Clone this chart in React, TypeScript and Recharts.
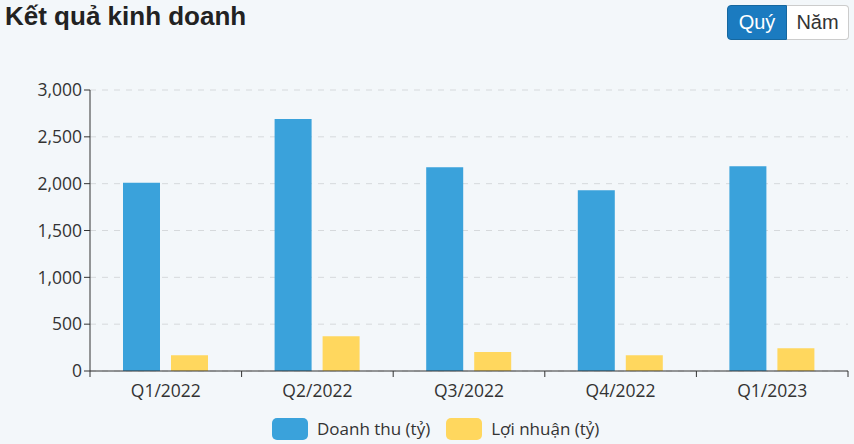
import { BarChart, Bar, XAxis, YAxis, CartesianGrid } from "recharts";

const quarters = ["Q1/2022", "Q2/2022", "Q3/2022", "Q4/2022", "Q1/2023"];
const revenue = [2010, 2690, 2175, 1930, 2185];
const profit = [168, 372, 203, 168, 243];
const yTicks = [0, 500, 1000, 1500, 2000, 2500, 3000];

const seriesNames = ["Doanh thu (tỷ)", "Lợi nhuận (tỷ)"];
const colors = ["#3aa2db", "#ffd75e"];

const data = quarters.map((q, i) => ({
  quarter: q,
  revenue: revenue[i],
  profit: profit[i],
}));

const font = "'Open Sans', 'Noto Sans', sans-serif";
const bandHalf = (848 - 90) / quarters.length / 2;

function QuarterTick(props: any) {
  const { x, y, payload, index } = props;
  const isLast = index === quarters.length - 1;
  return (
    <g>
      <line x1={x - bandHalf} y1={y - 8} x2={x - bandHalf} y2={y - 2} stroke="#333" />
      {isLast ? (
        <line x1={x + bandHalf} y1={y - 8} x2={x + bandHalf} y2={y - 2} stroke="#333" />
      ) : null}
      <text x={x} y={y + 18} textAnchor="middle" fill="#333" fontSize={17.5} fontFamily={font}>
        {payload.value}
      </text>
    </g>
  );
}

export default function App() {
  return (
    <div
      style={{
        position: "absolute",
        left: 0,
        top: 0,
        width: 854,
        height: 444,
        background: "#f3f7fa",
        fontFamily: font,
        overflow: "hidden",
      }}
    >
      <div
        style={{
          position: "absolute",
          left: 5,
          top: 1,
          fontFamily: "'Liberation Sans', Arial, sans-serif",
          fontWeight: "bold",
          fontSize: 26,
          color: "#222",
        }}
      >
        Kết quả kinh doanh
      </div>
      <div
        style={{
          position: "absolute",
          left: 727,
          top: 5,
          display: "flex",
          height: 35,
          fontSize: 20,
          fontFamily: "'Liberation Sans', Arial, sans-serif",
        }}
      >
        <div
          style={{
            background: "#1b7bc0",
            color: "#fff",
            width: 60,
            textAlign: "center",
            lineHeight: "33px",
            borderRadius: "4px 0 0 4px",
            border: "1px solid #16679f",
            boxSizing: "border-box",
          }}
        >
          Quý
        </div>
        <div
          style={{
            background: "#fff",
            color: "#333",
            width: 62,
            textAlign: "center",
            lineHeight: "33px",
            borderRadius: "0 4px 4px 0",
            border: "1px solid #ccc",
            borderLeft: "none",
            boxSizing: "border-box",
          }}
        >
          Năm
        </div>
      </div>
      <div style={{ position: "absolute", left: 0, top: 0 }}>
        <BarChart
          width={854}
          height={444}
          data={data}
          margin={{ top: 90, right: 6, bottom: 43, left: 10 }}
          barGap={11}
          barSize={37}
        >
          <CartesianGrid
            vertical={false}
            stroke="#d6d9dc"
            strokeDasharray="6 6"
          />
          <XAxis
            dataKey="quarter"
            height={30}
            stroke="#333"
            tickLine={false}
            tick={<QuarterTick />}
            interval={0}
          />
          <YAxis
            width={80}
            domain={[0, 3000]}
            ticks={yTicks}
            stroke="#333"
            tickSize={6}
            tick={{ fill: "#333", fontSize: 17.5, fontFamily: font }}
            tickFormatter={(v: number) => v.toLocaleString("en-US")}
          />
          <Bar dataKey="revenue" fill={colors[0]} isAnimationActive={false} />
          <Bar dataKey="profit" fill={colors[1]} isAnimationActive={false} />
        </BarChart>
      </div>
      <div
        style={{
          position: "absolute",
          top: 417,
          left: 272,
          display: "flex",
          alignItems: "center",
          fontSize: 17,
          color: "#333",
        }}
      >
        {seriesNames.map((name, i) => (
          <div key={name} style={{ display: "flex", alignItems: "center", marginRight: 16 }}>
            <span
              style={{
                display: "inline-block",
                width: 36,
                height: 22,
                borderRadius: 5,
                background: colors[i],
                marginRight: 9,
              }}
            />
            {name}
          </div>
        ))}
      </div>
    </div>
  );
}
